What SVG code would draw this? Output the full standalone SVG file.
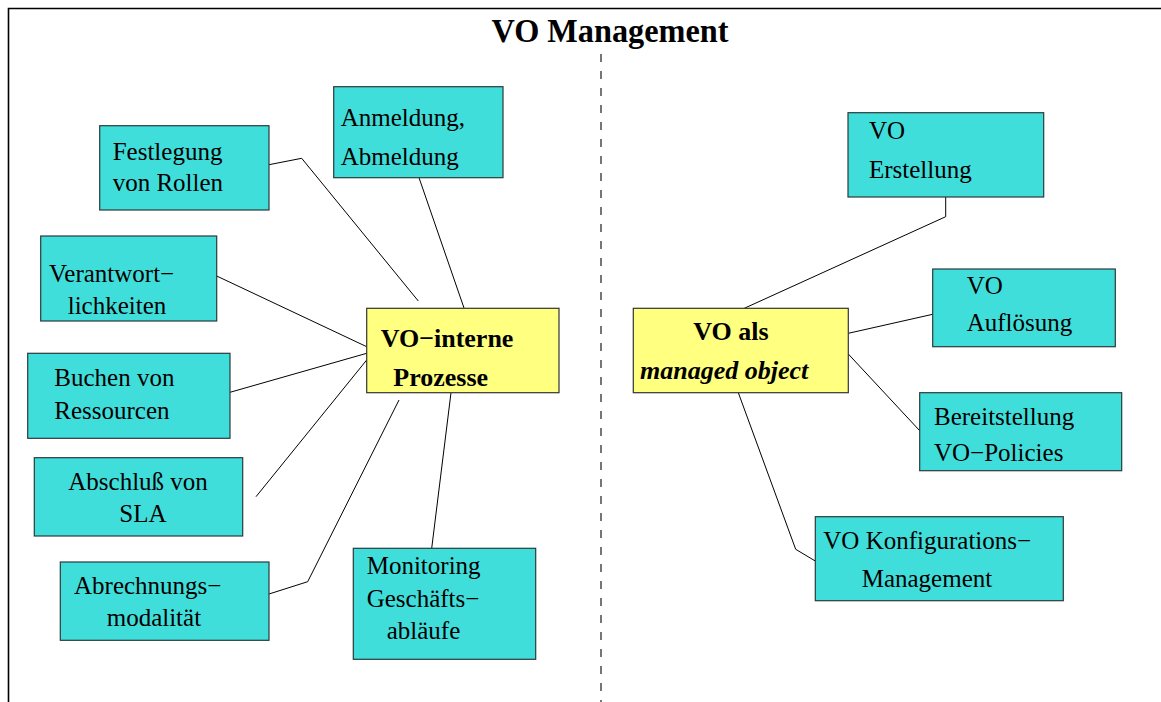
<svg xmlns="http://www.w3.org/2000/svg" width="1161" height="702" viewBox="0 0 1161 702">
  <style>
    .box { fill: #40dedb; stroke: #2a3a3a; stroke-width: 1.2; }
    .hub { fill: #ffff80; stroke: #333333; stroke-width: 1.2; }
    .lbl { font-family: "Liberation Serif", "Times New Roman", serif; font-size: 25px; fill: #000; }
    .hubl { font-family: "Liberation Serif", "Times New Roman", serif; font-size: 26px; font-weight: bold; fill: #000; }
    .title { font-family: "Liberation Serif", "Times New Roman", serif; font-size: 33px; font-weight: bold; fill: #000; }
    .link { fill: none; stroke: #000; stroke-width: 1; }
    .frame { fill: none; stroke: #000; stroke-width: 1.6; }
    .divider { fill: none; stroke: #555; stroke-width: 1.6; stroke-dasharray: 8 9; }
  </style>

  <rect x="0" y="0" width="1161" height="702" fill="#fff"/>

  <!-- frame and divider -->
  <g id="frame">
    <path class="frame" d="M8.5,702 V8.5 H1161"/>
    <path class="divider" d="M601,54 V702"/>
    <text class="title" x="491.5" y="41.5" textLength="237" lengthAdjust="spacingAndGlyphs">VO Management</text>
  </g>

  <!-- connectors -->
  <g id="connectors">
    <polyline class="link" points="269,164.7 301.7,158.3 418.3,301"/>
    <line class="link" x1="419" y1="177.7" x2="464" y2="308"/>
    <line class="link" x1="216.7" y1="276" x2="366.7" y2="346.7"/>
    <line class="link" x1="230" y1="392.3" x2="366.7" y2="353.3"/>
    <line class="link" x1="366.7" y1="360" x2="256" y2="496.7"/>
    <polyline class="link" points="269,594 307.7,581.7 399,400"/>
    <line class="link" x1="431.7" y1="548.3" x2="451" y2="392.7"/>

    <polyline class="link" points="945.7,197 945.7,216.7 744.3,308.3"/>
    <line class="link" x1="848.3" y1="333.3" x2="932.7" y2="314.3"/>
    <line class="link" x1="848.3" y1="354" x2="919.7" y2="430.7"/>
    <polyline class="link" points="738.3,392.7 795.7,549.3 815.3,561"/>
  </g>

  <!-- left hub and its topics -->
  <g id="vo-interne">
    <rect class="hub" x="366.7" y="308.3" width="192.3" height="84.4"/>
    <text class="hubl" x="380.7" y="346.7">VO−interne</text>
    <text class="hubl" x="393.3" y="385.7">Prozesse</text>
  </g>
  <g id="anmeldung">
    <rect class="box" x="333.7" y="86.7" width="169.3" height="91"/>
    <text class="lbl" x="340.7" y="125.7">Anmeldung,</text>
    <text class="lbl" x="340.7" y="165">Abmeldung</text>
  </g>
  <g id="festlegung">
    <rect class="box" x="99.7" y="125.7" width="169.3" height="84.3"/>
    <text class="lbl" x="112.7" y="159.5">Festlegung</text>
    <text class="lbl" x="112.7" y="190.7">von Rollen</text>
  </g>
  <g id="verantwortlichkeiten">
    <rect class="box" x="40.7" y="236" width="176" height="85"/>
    <text class="lbl" x="49" y="281.7">Verantwort−</text>
    <text class="lbl" x="67.7" y="314.3">lichkeiten</text>
  </g>
  <g id="buchen">
    <rect class="box" x="27.7" y="353.3" width="202.3" height="85"/>
    <text class="lbl" x="54.3" y="385.7">Buchen von</text>
    <text class="lbl" x="54.3" y="419">Ressourcen</text>
  </g>
  <g id="abschluss">
    <rect class="box" x="34.3" y="457.7" width="208.4" height="78.3"/>
    <text class="lbl" x="68.3" y="490">Abschluß von</text>
    <text class="lbl" x="119.3" y="522.3">SLA</text>
  </g>
  <g id="abrechnung">
    <rect class="box" x="60.3" y="562" width="208.7" height="78.3"/>
    <text class="lbl" x="74" y="594.3">Abrechnungs−</text>
    <text class="lbl" x="106.7" y="625.7">modalität</text>
  </g>
  <g id="monitoring">
    <rect class="box" x="353.3" y="548.3" width="182.4" height="111"/>
    <text class="lbl" x="366.7" y="574.3">Monitoring</text>
    <text class="lbl" x="366.7" y="606.7">Geschäfts−</text>
    <text class="lbl" x="386.7" y="639">abläufe</text>
  </g>

  <!-- right hub and its topics -->
  <g id="vo-als-managed-object">
    <rect class="hub" x="633.3" y="308.3" width="215" height="84.4"/>
    <text class="hubl" x="693.3" y="340">VO als</text>
    <text class="hubl" x="640" y="379.3" font-style="italic">managed object</text>
  </g>
  <g id="vo-erstellung">
    <rect class="box" x="848" y="112.7" width="195.7" height="84.3"/>
    <text class="lbl" x="869" y="139.3">VO</text>
    <text class="lbl" x="869" y="178.3">Erstellung</text>
  </g>
  <g id="vo-aufloesung">
    <rect class="box" x="932.7" y="269" width="182.6" height="77.7"/>
    <text class="lbl" x="966.7" y="294">VO</text>
    <text class="lbl" x="966.7" y="330.7">Auflösung</text>
  </g>
  <g id="bereitstellung">
    <rect class="box" x="919.7" y="392.7" width="202" height="78"/>
    <text class="lbl" x="934" y="425">Bereitstellung</text>
    <text class="lbl" x="934" y="460.7">VO−Policies</text>
  </g>
  <g id="konfiguration">
    <rect class="box" x="815.3" y="516.7" width="248" height="84"/>
    <text class="lbl" x="823.3" y="549">VO Konfigurations−</text>
    <text class="lbl" x="861.7" y="586.7">Management</text>
  </g>
</svg>
